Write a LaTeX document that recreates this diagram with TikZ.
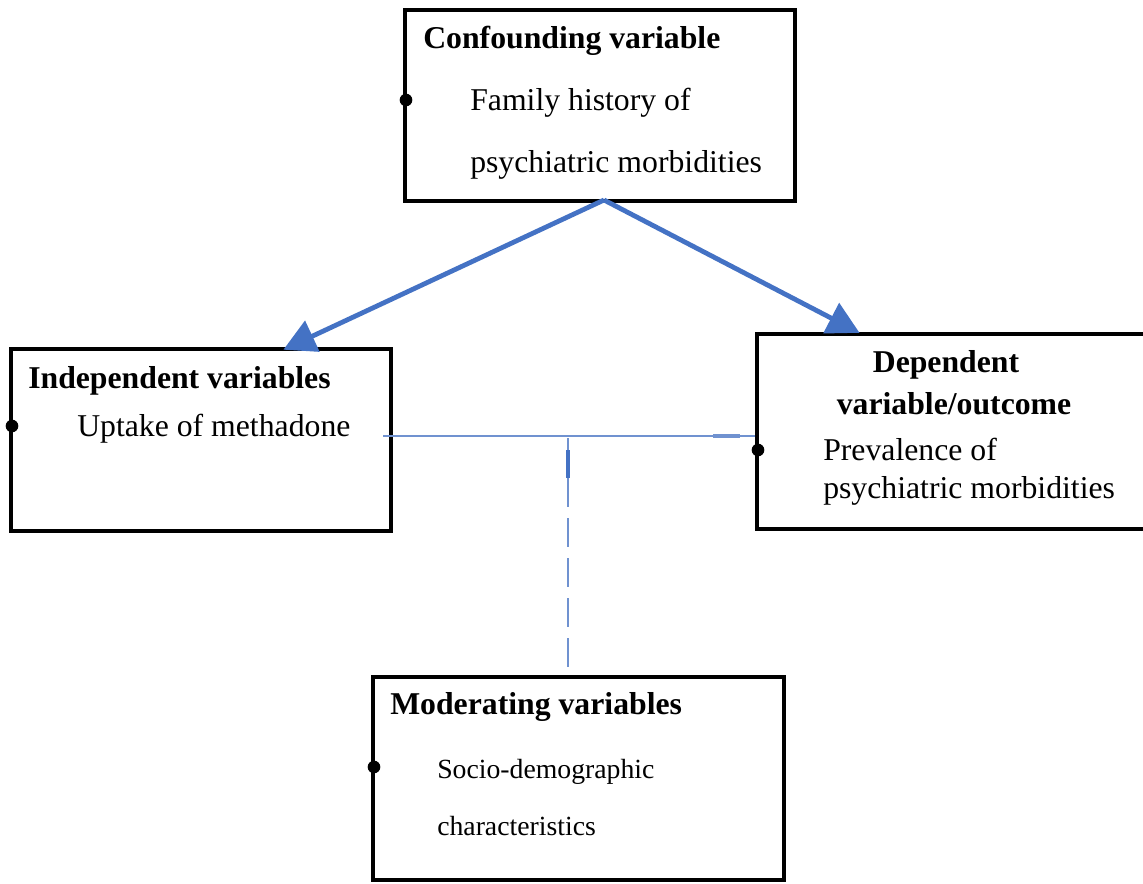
\documentclass[tikz,border=0pt]{standalone}
\usepackage{fontspec}
\setmainfont{Liberation Serif}
\usetikzlibrary{arrows.meta}
\definecolor{arrowblue}{RGB}{68,114,196}
\definecolor{linkblue}{RGB}{112,146,208}
\begin{document}
\begin{tikzpicture}[x=0.75pt,y=-0.75pt,
  box/.style={draw=black,line width=3pt,inner sep=0pt,fill=none},
  head/.style={font=\fontsize{23.8}{28}\selectfont\bfseries,inner sep=0pt,anchor=base west},
  headc/.style={font=\fontsize{23.8}{28}\selectfont\bfseries,inner sep=0pt,anchor=base},
  body/.style={font=\fontsize{23.8}{28}\selectfont,inner sep=0pt,anchor=base west},
  small/.style={font=\fontsize{20.8}{25}\selectfont,inner sep=0pt,anchor=base west},
  bulletdot/.style={fill=black,circle,inner sep=0pt,minimum size=9.5pt},
  bigarrow/.style={draw=arrowblue,line width=3.6pt,-{Triangle[length=24pt,width=25pt]},shorten >=-3pt},
  thinlink/.style={draw=linkblue,line width=1.4pt},
  dashlink/.style={draw=linkblue,line width=1.4pt,dash pattern=on 22pt off 8pt}
]
\useasboundingbox (0,0) rectangle (1143,883);
% boxes
\node[box,minimum width=292.5pt,minimum height=143.25pt] (conf) at (600,105.5) {};
\node[box,minimum width=285pt,minimum height=136.5pt] (indep) at (201,440) {};
\node[box,minimum width=291pt,minimum height=146.25pt] (dep) at (951,431.5) {};
\node[box,minimum width=308.25pt,minimum height=152.25pt] (mod) at (578.5,778.5) {};
% bullets
\node[bulletdot] (b1) at (406,100) {};
\node[bulletdot] (b2) at (12,426) {};
\node[bulletdot] (b3) at (758,450) {};
\node[bulletdot] (b4) at (374,767) {};
% texts
\node[head] (t1) at (423,48) {Confounding variable};
\node[body] (t2) at (470,110) {Family history of};
\node[body] (t3) at (470,172) {psychiatric morbidities};
\node[head] (t4) at (28,388) {Independent variables};
\node[body] (t5) at (77,436) {Uptake of methadone};
\node[headc] (t6a) at (946,372) {Dependent};
\node[headc] (t6b) at (954,414) {variable/outcome};
\node[body] (t7) at (823,460) {Prevalence of};
\node[body] (t8) at (823,498) {psychiatric morbidities};
\node[head] (t9) at (390,714) {Moderating variables};
\node[small] (t10) at (437,778) {Socio-demographic};
\node[small] (t11) at (437,835) {characteristics};
% connectors
\coordinate (apex) at (604,200);
\coordinate (ia) at (287,348);
\coordinate (da) at (856,331);
\draw[bigarrow] (apex) -- (ia);
\draw[bigarrow] (apex) -- (da);
\coordinate (hl) at (383,436);
\coordinate (hr) at (755,436);
\coordinate (vt) at (568,438);
\coordinate (vb) at (568,675);
\draw[thinlink] (hl) -- (hr);
\draw[dashlink] (vt) -- (vb);
\coordinate (m1) at (713,436);
\coordinate (m2) at (740,436);
\draw[draw=linkblue,line width=3pt] (m1) -- (m2);
\coordinate (m3) at (568,450);
\coordinate (m4) at (568,478);
\draw[draw=arrowblue,line width=3pt] (m3) -- (m4);
\end{tikzpicture}
\end{document}
